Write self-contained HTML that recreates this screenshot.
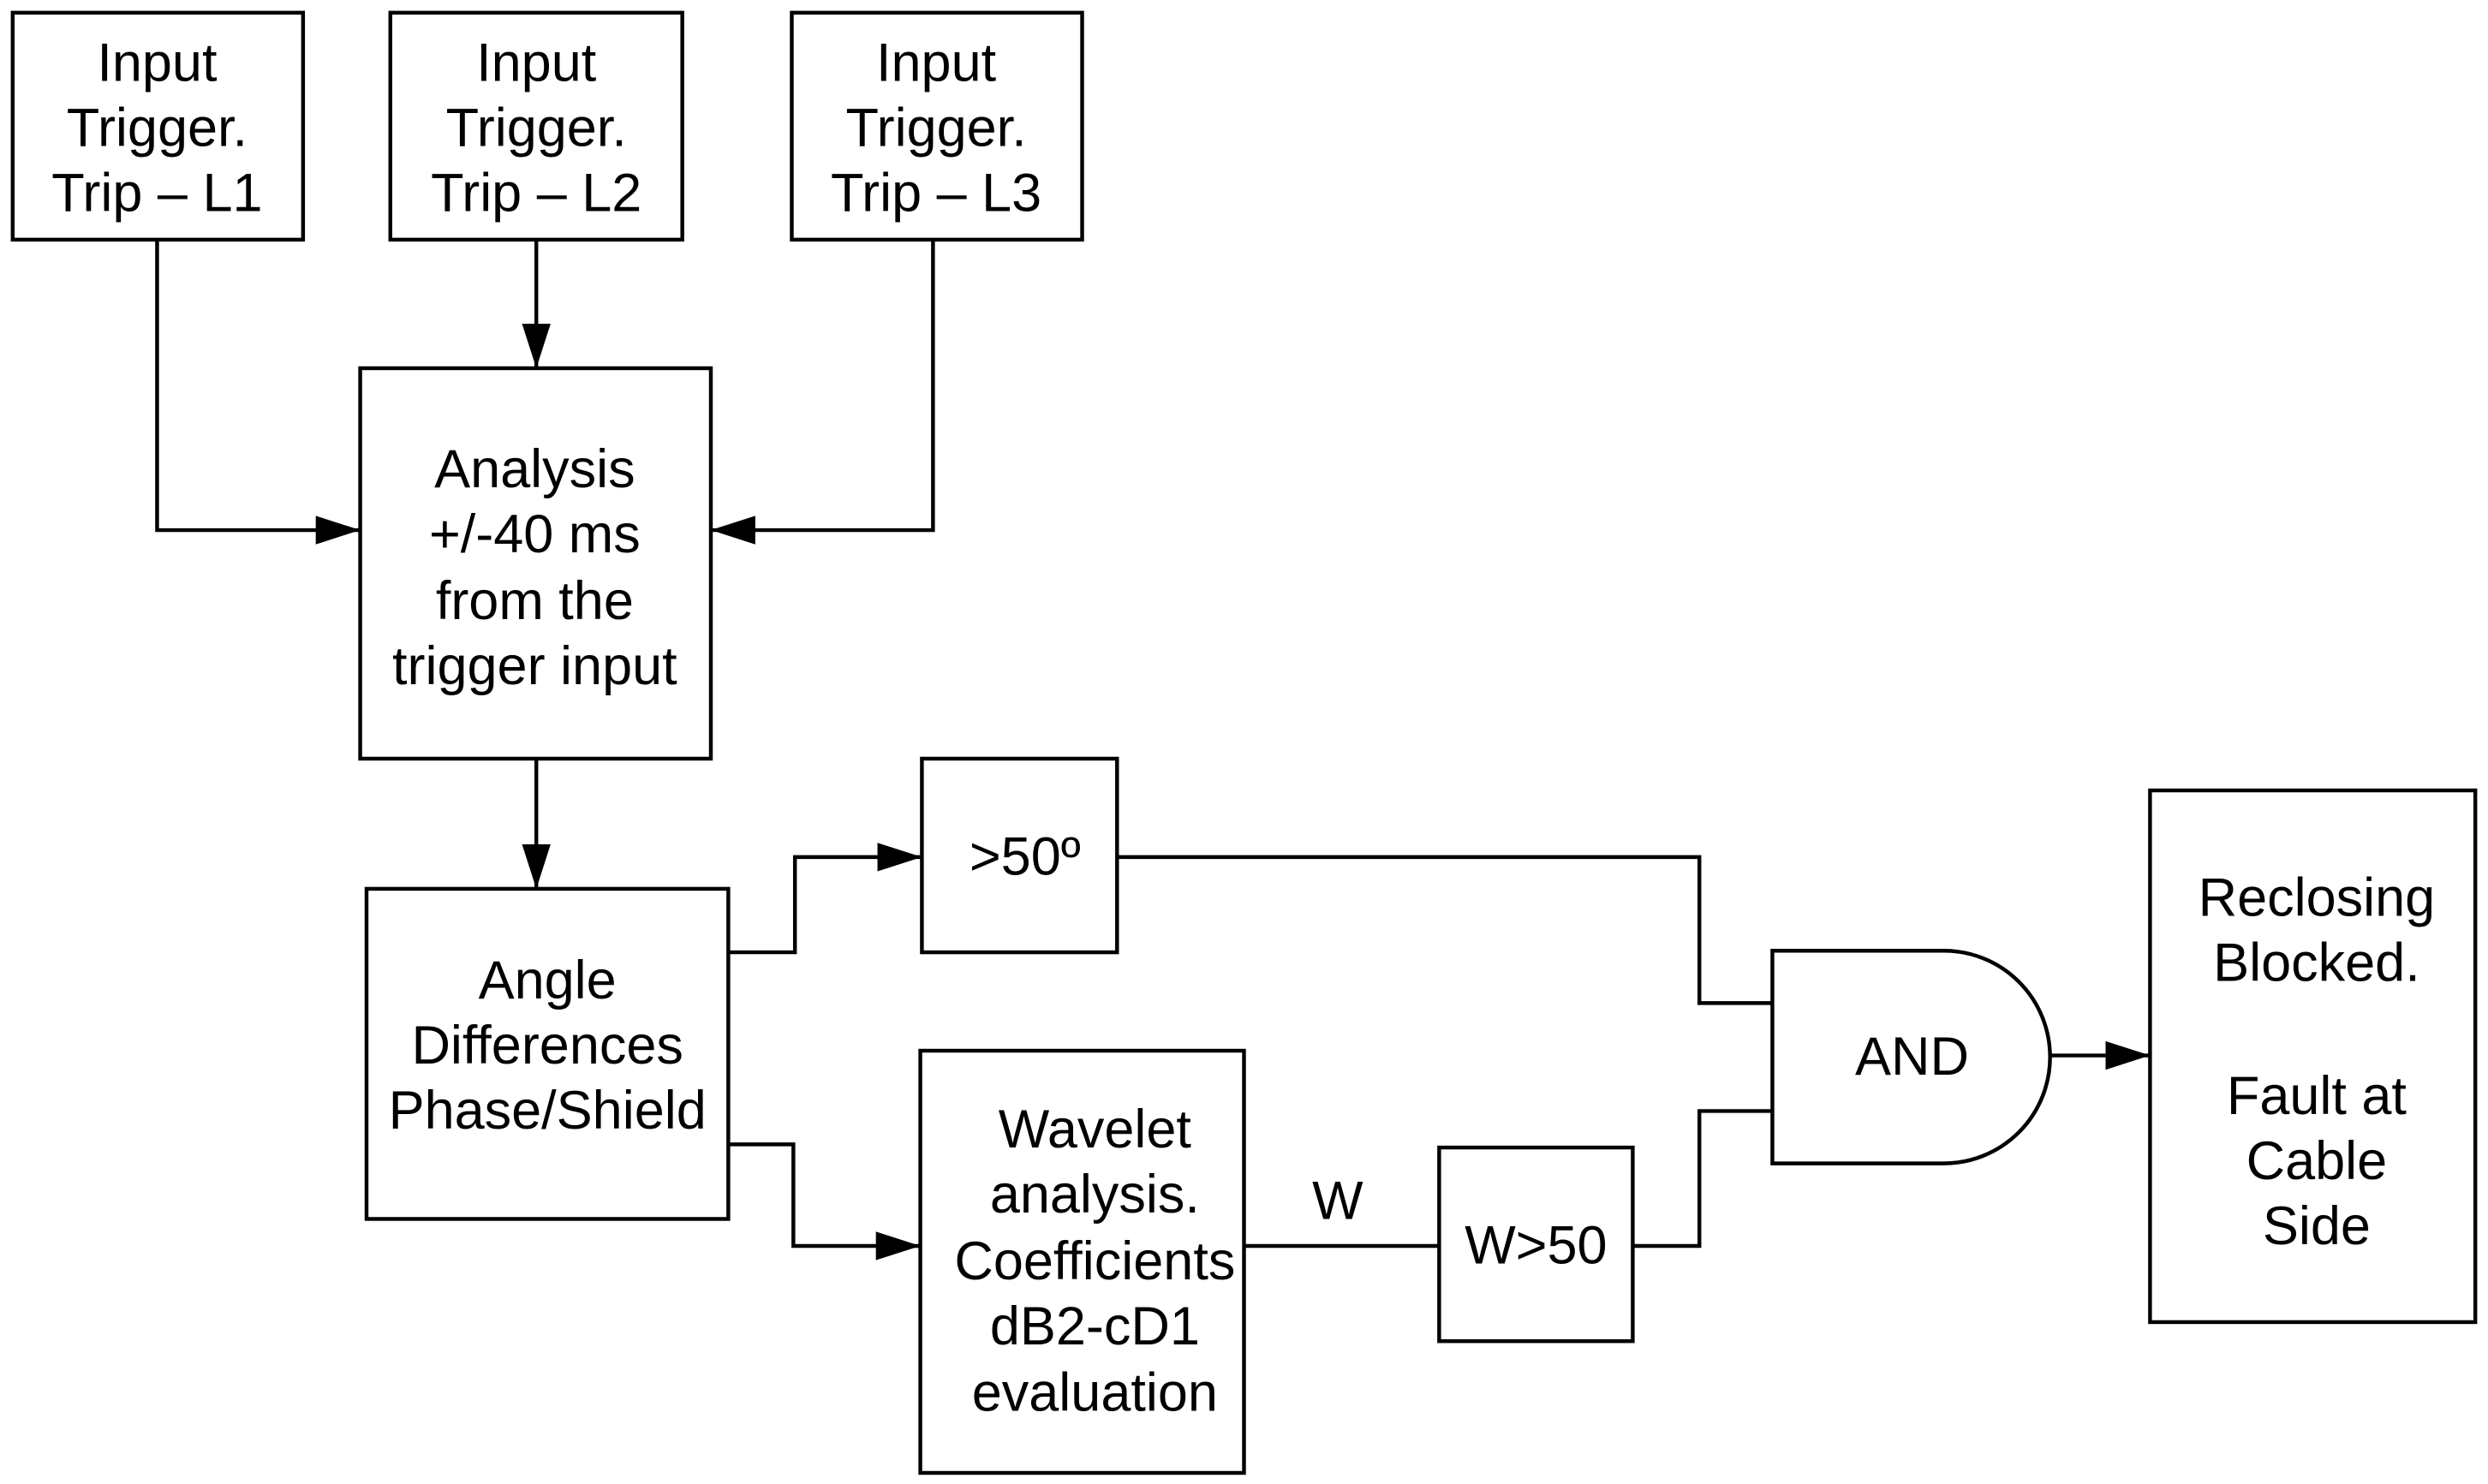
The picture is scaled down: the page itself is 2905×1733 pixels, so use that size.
<!DOCTYPE html>
<html><head><style>html,body{margin:0;padding:0;background:#fff}svg{display:block}</style></head>
<body>
<svg width="2905" height="1733" viewBox="0 0 1568 935" preserveAspectRatio="none" xmlns="http://www.w3.org/2000/svg">
<defs><marker id="a" markerWidth="30" markerHeight="20" refX="28" refY="10" orient="auto" markerUnits="userSpaceOnUse"><path d="M0,1 L28,10 L0,19 Z" fill="#000"/></marker></defs>
<g fill="none" stroke="#000" stroke-width="2.4">
<rect x="8" y="8" width="183" height="143"/>
<rect x="246" y="8" width="184" height="143"/>
<rect x="499" y="8" width="183" height="143"/>
<rect x="227" y="232" width="221" height="246"/>
<rect x="231" y="560" width="228" height="208"/>
<rect x="581" y="478" width="123" height="122"/>
<rect x="580" y="662" width="204" height="266"/>
<rect x="907" y="723" width="122" height="122"/>
<rect x="1355" y="498" width="205" height="335"/>
<path d="M1117,599 H1225 A67,67 0 0 1 1225,733 H1117 Z"/>
<path d="M99,151 V334 H227" marker-end="url(#a)"/>
<path d="M338,151 V232" marker-end="url(#a)"/>
<path d="M588,151 V334 H448" marker-end="url(#a)"/>
<path d="M338,478 V560" marker-end="url(#a)"/>
<path d="M459,600 H501 V540 H581" marker-end="url(#a)"/>
<path d="M459,721 H500 V785 H580" marker-end="url(#a)"/>
<path d="M784,785 H907"/>
<path d="M1029,785 H1071 V700 H1117"/>
<path d="M704,540 H1071 V632 H1117"/>
<path d="M1292,665 H1355" marker-end="url(#a)"/>
</g>
<g font-family="Liberation Sans, sans-serif" font-size="34" text-anchor="middle" fill="#000">
<text x="99" y="51">Input</text><text x="99" y="92">Trigger.</text><text x="99" y="133">Trip – L1</text>
<text x="338" y="51">Input</text><text x="338" y="92">Trigger.</text><text x="338" y="133">Trip – L2</text>
<text x="590" y="51">Input</text><text x="590" y="92">Trigger.</text><text x="590" y="133">Trip – L3</text>
<text x="337" y="307">Analysis</text><text x="337" y="348">+/-40 ms</text><text x="337" y="390">from the</text><text x="337" y="431">trigger input</text>
<text x="345" y="629">Angle</text><text x="345" y="670">Differences</text><text x="345" y="711">Phase/Shield</text>
<text x="646" y="551">&gt;50º</text>
<text x="690" y="723">Wavelet</text><text x="690" y="764">analysis.</text><text x="690" y="806">Coefficients</text><text x="690" y="847">dB2-cD1</text><text x="690" y="889">evaluation</text>
<text x="843" y="768">W</text>
<text x="968" y="796">W&gt;50</text>
<text x="1205" y="677">AND</text>
<text x="1460" y="577">Reclosing</text><text x="1460" y="618">Blocked.</text>
<text x="1460" y="702">Fault at</text><text x="1460" y="743">Cable</text><text x="1460" y="784">Side</text>
</g>
</svg>
</body></html>
